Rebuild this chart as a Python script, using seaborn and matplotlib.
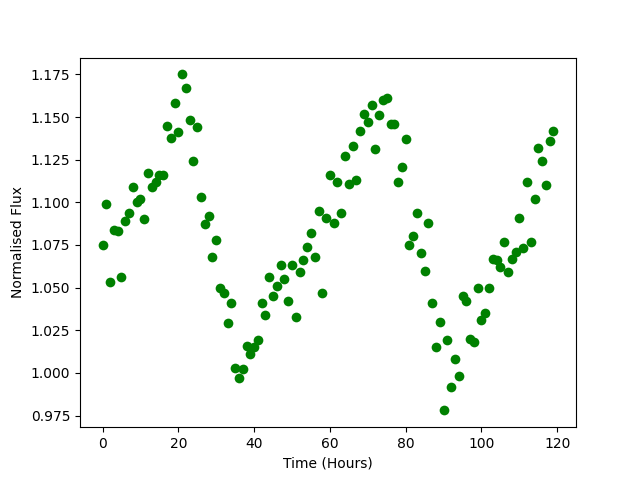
import numpy as np
import pandas as pd
import matplotlib
matplotlib.use("Agg")
import matplotlib.pyplot as plt
import seaborn as sns

# Tempo em horas (uma medida por hora)
horas = np.arange(0, 120)

# Fluxo normalizado
fluxo = [
    1.075, 1.099, 1.053, 1.084, 1.083, 1.056, 1.089, 1.094, 1.109, 1.100,
    1.102, 1.090, 1.117, 1.109, 1.112, 1.116, 1.116, 1.145, 1.138, 1.158,
    1.141, 1.175, 1.167, 1.148, 1.124, 1.144, 1.103, 1.087, 1.092, 1.068,
    1.078, 1.050, 1.047, 1.029, 1.041, 1.003, 0.997, 1.002, 1.016, 1.011,
    1.015, 1.019, 1.041, 1.034, 1.056, 1.045, 1.051, 1.063, 1.055, 1.042,
    1.063, 1.033, 1.059, 1.066, 1.074, 1.082, 1.068, 1.095, 1.047, 1.091,
    1.116, 1.088, 1.112, 1.094, 1.127, 1.111, 1.133, 1.113, 1.142, 1.152,
    1.147, 1.157, 1.131, 1.151, 1.160, 1.161, 1.146, 1.146, 1.112, 1.121,
    1.137, 1.075, 1.080, 1.094, 1.070, 1.060, 1.088, 1.041, 1.015, 1.030,
    0.978, 1.019, 0.992, 1.008, 0.998, 1.045, 1.042, 1.020, 1.018, 1.050,
    1.031, 1.035, 1.050, 1.067, 1.066, 1.062, 1.077, 1.059, 1.067, 1.071,
    1.091, 1.073, 1.112, 1.077, 1.102, 1.132, 1.124, 1.110, 1.136, 1.142,
]

df = pd.DataFrame({"Tempo": horas, "Fluxo": fluxo})

fig, ax = plt.subplots(figsize=(6.4, 4.8), dpi=100)
sns.scatterplot(data=df, x="Tempo", y="Fluxo", color="green", s=49,
                linewidth=0, ax=ax)
ax.set_xlabel("Time (Hours)")
ax.set_ylabel("Normalised Flux")
fig.savefig("out.png", dpi=100)
